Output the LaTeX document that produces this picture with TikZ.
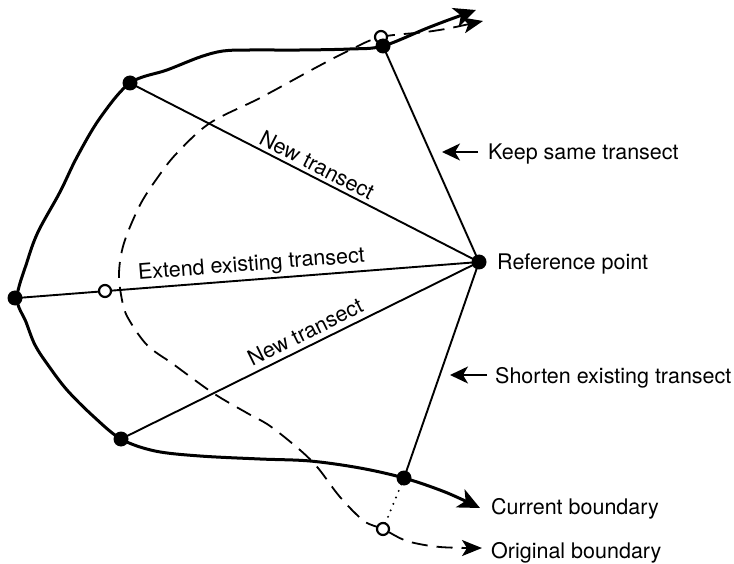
\documentclass[tikz,border=0pt]{standalone}
\usepackage{fontspec}
\setmainfont{TeX Gyre Heros}
\usetikzlibrary{arrows.meta}
\begin{document}
\begin{tikzpicture}[x=1pt,y=-1pt,
  dot/.style={circle,fill=black,inner sep=0pt,minimum size=15pt},
  odot/.style={circle,draw=black,fill=white,line width=2.2pt,inner sep=0pt,minimum size=12pt},
  transect/.style={line width=1.9pt},
  cur/.style={line width=3pt,arrows={Stealth[length=22pt,width=20pt,inset=6pt]-Stealth[length=22pt,width=20pt,inset=6pt]}},
  orig/.style={line width=1.8pt,dash pattern=on 16pt off 9pt,arrows={Stealth[length=20pt,width=16pt,inset=5pt]-Stealth[length=20pt,width=16pt,inset=5pt]}},
  dots/.style={line width=2.2pt,line cap=round,dash pattern=on 0pt off 7pt},
  lbl/.style={font=\fontsize{21.5}{25}\selectfont,inner sep=0pt},
  tlbl/.style={font=\fontsize{21.5}{25}\selectfont,inner sep=4pt,sloped,anchor=south},
  pointer/.style={line width=1.9pt,-{Stealth[length=18pt,width=17pt,inset=5pt]}}
]
\useasboundingbox (0,0) rectangle (734,564);

% points
\coordinate (R) at (479,262);
\coordinate (T) at (383,46);
\coordinate (A) at (130,83);
\coordinate (L) at (17,298);
\coordinate (B) at (121,439);
\coordinate (C) at (404,478);
\coordinate (O1) at (381,37);
\coordinate (O2) at (383,529);
\coordinate (O3) at (105,291);

% original boundary (dashed)
\draw[orig] plot[smooth,tension=0.55] coordinates {
 (483,21) (433,31) (O1) (350,50) (317,67) (260,98) (210,123) (177,153) (158,177)
 (140,205) (124,243) (119,273) (122,300) (128,318) (147,345) (173,364) (213,393)
 (247,413) (270,426) (300,450) (318,468) (340,497) (364,521) (O2) (407,541) (440,547) (482,548)};

% current boundary (solid)
\draw[cur] plot[smooth,tension=0.55] coordinates {
 (476,10) (430,27) (T) (350,49) (300,50) (250,50) (223,51) (200,57) (167,70)
 (A) (100,118) (77,157) (60,192) (38,232) (27,262) (L) (26,322) (35,345)
 (48,365) (67,390) (93,416) (B) (155,451) (200,456) (260,459) (310,461)
 (360,468) (C) (445,492) (480,508)};

% transects
\draw[transect] (R) -- (T);
\draw[transect] (R) -- (A);
\draw[transect] (R) -- (L);
\draw[transect] (R) -- (B);
\draw[transect] (R) -- (C);
\draw[dots] (C) -- (O2);

\path (A) -- (R) node[tlbl,pos=0.52] {New transect};
\path (L) -- (R) node[tlbl,pos=0.51] {Extend existing transect};
\path (B) -- (R) node[tlbl,pos=0.532,yshift=2pt] {New transect};

% dots
\node[odot] (o1) at (O1) {};
\node[odot] (o2) at (O2) {};
\node[odot] (o3) at (O3) {};
\node[dot] (t) at (T) {};
\node[dot] (a) at (A) {};
\node[dot] (l) at (15,298) {};
\node[dot] (b) at (B) {};
\node[dot] (c) at (C) {};
\node[dot] (r) at (R) {};

% right labels
\node[lbl,anchor=base west] (keep) at (488,160) {Keep same transect};
\node[lbl,anchor=base west] (ref) at (497,270) {Reference point};
\node[lbl,anchor=base west] (short) at (495,383) {Shorten existing transect};
\node[lbl,anchor=base west] (curl) at (491,514) {Current boundary};
\node[lbl,anchor=base west] (origl) at (491,558) {Original boundary};

\coordinate (k1) at (478,152);
\coordinate (k2) at (442,152);
\draw[pointer] (k1) -- (k2);
\coordinate (s1) at (487,375);
\coordinate (s2) at (450,375);
\draw[pointer] (s1) -- (s2);
\end{tikzpicture}
\end{document}
